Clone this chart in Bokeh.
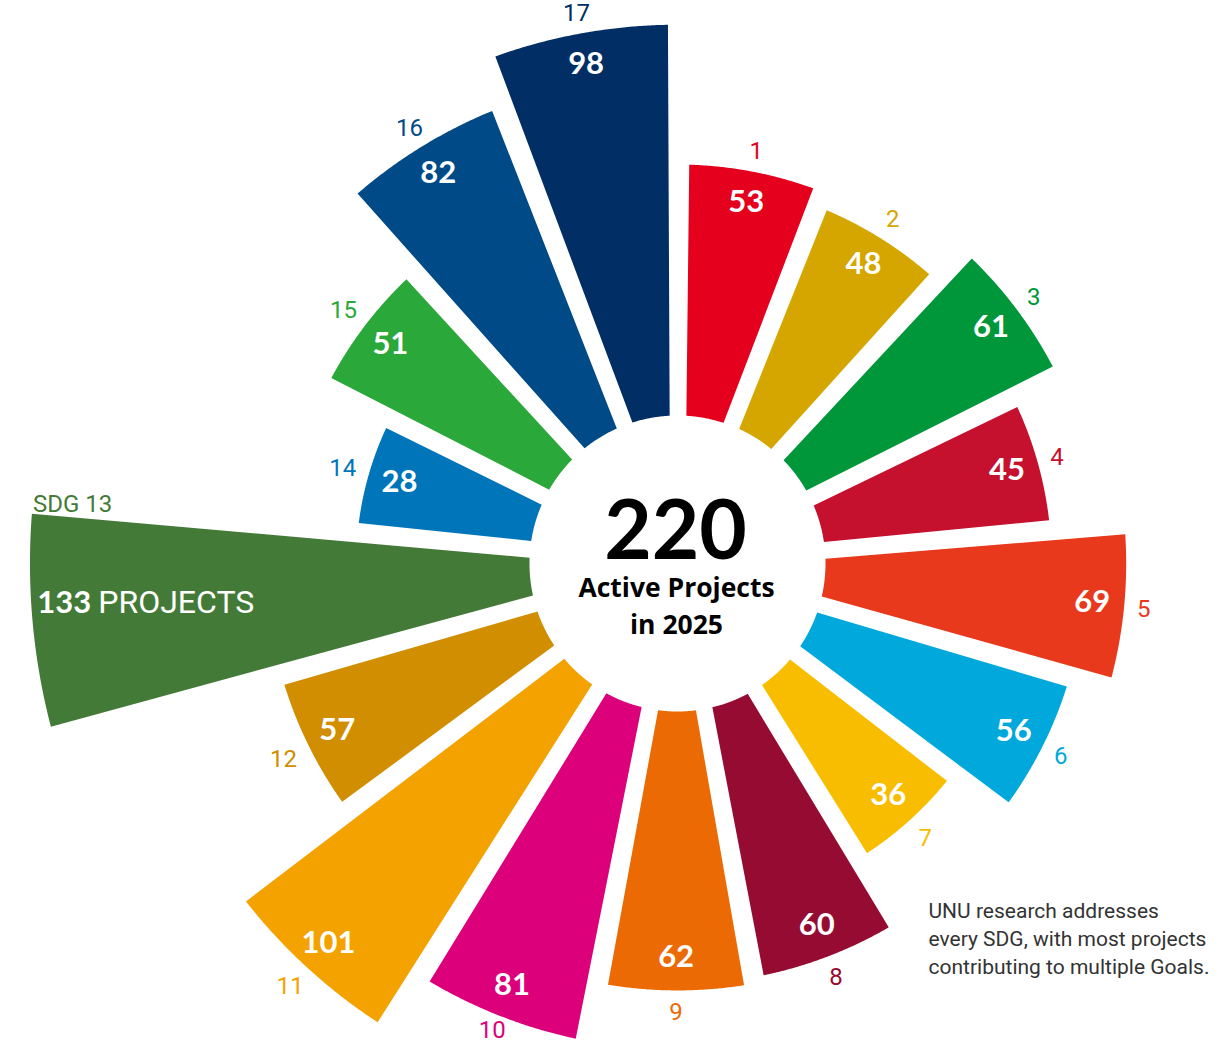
import math
import numpy as np
from bokeh.plotting import figure
from bokeh.models import Range1d, ColumnDataSource
from bokeh.embed import file_html
from bokeh.resources import INLINE
from bokeh.core.properties import value

# ---------------- data ----------------
goals = [str(i) for i in range(1, 18)]
projects = [53, 48, 61, 45, 69, 56, 36, 60, 62, 81, 101, 57, 133, 28, 51, 82, 98]
colors = ["#E5001E", "#D5A600", "#00963A", "#C5102E", "#E8391D", "#00A8DC", "#F9BD00",
          "#960B32", "#EC6A03", "#DC007B", "#F4A200", "#D08E00", "#447A37", "#0075B9",
          "#2BA83A", "#004B87", "#002E65"]
total_projects = "220"
center_lines = ["Active Projects", "in 2025"]
note_lines = ["UNU research addresses",
              "every SDG, with most projects",
              "contributing to multiple Goals."]
highlight_goal = "13"
highlight_prefix = "SDG"
highlight_word = "PROJECTS"

# ---------------- layout ----------------
PAGE_W, PAGE_H = 1232, 1044
W, H = PAGE_W, PAGE_H
CX, CY = 677.0, PAGE_H - 563.0
R_IN = 148.0
R0, K = 234.3, 3.107
GAP_PX = 7.2
GAP_ANG = math.radians(0.45)
ROT = math.radians(-0.2)

LABEL_FONT = value("Roboto")
VALUE_FONT = value("Lato")
CENTER_FONT = value("Open Sans")


def radius(v):
    return R0 + K * v


def pad(r):
    return math.asin(GAP_PX / r) + GAP_ANG


n = len(goals)
step = 2 * math.pi / n

xs, ys, mids, routs, a_ends = [], [], [], [], []
for i, v in enumerate(projects):
    a0 = math.pi / 2 - i * step + ROT
    a1 = a0 - step
    ro = radius(v)
    outer = np.linspace(a0 - pad(ro), a1 + pad(ro), 80)
    inner = np.linspace(a1 + pad(R_IN), a0 - pad(R_IN), 40)
    px = np.concatenate([CX + ro * np.cos(outer), CX + R_IN * np.cos(inner)])
    py = np.concatenate([CY + ro * np.sin(outer), CY + R_IN * np.sin(inner)])
    xs.append(px.tolist())
    ys.append(py.tolist())
    mids.append((a0 + a1) / 2)
    routs.append(ro)
    a_ends.append(a1)

src = ColumnDataSource(dict(xs=xs, ys=ys, color=colors, goal=goals, projects=projects))

p = figure(width=W, height=H,
           x_range=Range1d(0, W), y_range=Range1d(PAGE_H - H, PAGE_H),
           output_backend="svg", toolbar_location=None, min_border=0,
           x_axis_type=None, y_axis_type=None)
p.grid.visible = False
p.outline_line_color = None
p.background_fill_color = "white"
p.border_fill_color = "white"

p.patches(xs="xs", ys="ys", fill_color="color", line_color=None, source=src)

# ---------------- value labels inside wedges & goal labels outside ----------------
vx, vy, vt = [], [], []
gx, gy, gt, gc = [], [], [], []
hi = goals.index(highlight_goal)
for i, (g, v) in enumerate(zip(goals, projects)):
    a = mids[i]
    ro = routs[i]
    if i == hi:
        continue
    vx.append(CX + (ro - 32) * math.cos(a))
    vy.append(CY + (ro - 32) * math.sin(a) + 2)
    vt.append(str(v))
    hw = 6.75 * len(g)
    hh = 8.5
    c, s = abs(math.cos(a)), abs(math.sin(a))
    d = min(hw / c if c > 1e-6 else 1e9, hh / s if s > 1e-6 else 1e9)
    rl = ro + 13 + d
    gx.append(CX + rl * math.cos(a))
    gy.append(max(CY + rl * math.sin(a), 15))
    gt.append(g)
    gc.append(colors[i])

p.text(x=vx, y=vy, text=vt, text_color="white", text_font=VALUE_FONT,
       text_font_style="bold", text_font_size="31px",
       text_align="center", text_baseline="middle")
p.text(x=gx, y=gy, text=gt, text_color=gc, text_font=LABEL_FONT,
       text_font_size="24px", text_align="center", text_baseline="middle")

# ---------------- highlighted wedge (SDG 13) ----------------
ro = routs[hi]
hy = CY - 38
hx = CX - math.sqrt(ro ** 2 - 41 ** 2) + 6
p.text(x=[hx], y=[hy], text=[str(projects[hi])], text_color="white",
       text_font=VALUE_FONT, text_font_style="bold", text_font_size="31px",
       text_align="left", text_baseline="middle")
p.text(x=[hx + 61], y=[hy], text=[highlight_word], text_color="white",
       text_font=LABEL_FONT, text_font_size="32px",
       text_align="left", text_baseline="middle")
ac = a_ends[hi] + pad(ro)
cxr, cyr = CX + ro * math.cos(ac), CY + ro * math.sin(ac)
p.text(x=[cxr + 1], y=[cyr + 10], text=[highlight_prefix + " " + highlight_goal],
       text_color=colors[hi], text_font=LABEL_FONT, text_font_size="24px",
       text_align="left", text_baseline="middle")

# ---------------- centre ----------------
p.text(x=[CX - 2], y=[CY + 35], text=[total_projects], text_color="black",
       text_font=VALUE_FONT, text_font_style="bold", text_font_size="82px",
       text_align="center", text_baseline="middle")
p.text(x=[CX - 1, CX - 1], y=[CY - 23, CY - 60], text=center_lines,
       text_color="black", text_font=CENTER_FONT, text_font_style="bold",
       text_font_size="26.5px", text_align="center", text_baseline="middle")

# ---------------- note ----------------
NOTE_X = 928
NOTE_Y0 = PAGE_H - 910.5
NOTE_DY = 28
p.text(x=[NOTE_X] * len(note_lines),
       y=[NOTE_Y0 - k * NOTE_DY for k in range(len(note_lines))],
       text=note_lines, text_color="#333333", text_font=LABEL_FONT,
       text_font_size="21px", text_align="left", text_baseline="alphabetic")

open("out.html", "w").write(file_html(p, INLINE))
